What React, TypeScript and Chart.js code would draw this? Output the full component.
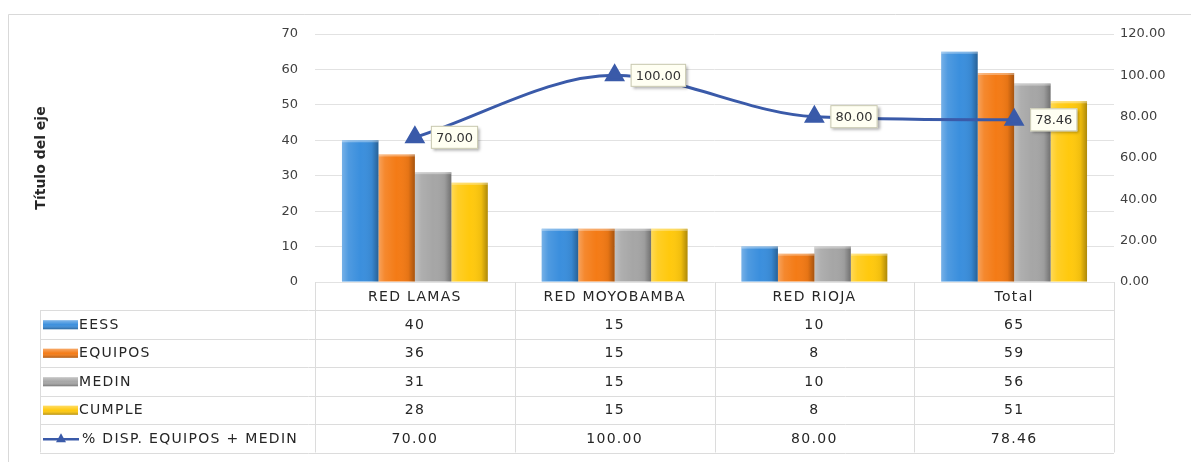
import { useEffect, useRef } from 'react';
import { Chart, registerables } from 'chart.js';
Chart.register(...registerables);

const categories = ['RED LAMAS', 'RED MOYOBAMBA', 'RED RIOJA', 'Total'];
const eess = [40, 15, 10, 65];
const equipos = [36, 15, 8, 59];
const medin = [31, 15, 10, 56];
const cumple = [28, 15, 8, 51];
const disp = [70.0, 100.0, 80.0, 78.46];
const seriesNames = ['EESS', 'EQUIPOS', 'MEDIN', 'CUMPLE'];
const lineName = '% DISP. EQUIPOS + MEDIN';
const axisTitle = 'Título del eje';

const FONT = '"DejaVu Sans", sans-serif';
const barColors = ['#3b8fdd', '#f47b16', '#a6a6a6', '#ffc90e'];
const lineColor = '#3a5aa9';

function shadeRect(ctx: CanvasRenderingContext2D, l: number, t: number, w: number, h: number) {
  const g = ctx.createLinearGradient(l, 0, l + w, 0);
  g.addColorStop(0, 'rgba(255,255,255,0.30)');
  g.addColorStop(0.18, 'rgba(255,255,255,0.10)');
  g.addColorStop(0.5, 'rgba(255,255,255,0)');
  g.addColorStop(0.82, 'rgba(0,0,0,0.06)');
  g.addColorStop(1, 'rgba(0,0,0,0.32)');
  ctx.fillStyle = g;
  ctx.fillRect(l, t, w, h);
  ctx.fillStyle = 'rgba(255,255,255,0.35)';
  ctx.fillRect(l, t, w, 2);
}

export default function App() {
  const ref = useRef<HTMLCanvasElement>(null);
  useEffect(() => {
    document.body.style.margin = '0';
    const canvas = ref.current!;

    const shadePlugin = {
      id: 'shade',
      afterDatasetDraw(chart: any, args: any) {
        const meta = args.meta;
        if (meta.type !== 'bar') return;
        const ctx = chart.ctx;
        ctx.save();
        meta.data.forEach((el: any) => {
          const { x, y, base, width } = el.getProps(['x', 'y', 'base', 'width'], true);
          shadeRect(ctx, x - width / 2, y, width, base - y);
        });
        ctx.restore();
      },
    };

    const labelPlugin = {
      id: 'lineLabels',
      afterDatasetDraw(chart: any, args: any) {
        const meta = args.meta;
        if (meta.type !== 'line') return;
        const ctx = chart.ctx;
        ctx.save();
        ctx.font = `13px ${FONT}`;
        meta.data.forEach((el: any, i: number) => {
          const { x, y } = el.getProps(['x', 'y'], true);
          const txt = disp[i].toFixed(2);
          const tw = ctx.measureText(txt).width;
          const bw = tw + 10;
          const bh = 23;
          const bx = x + 16;
          const by = y - bh / 2;
          ctx.shadowColor = 'rgba(0,0,0,0.35)';
          ctx.shadowOffsetX = 2;
          ctx.shadowOffsetY = 2;
          ctx.shadowBlur = 3;
          ctx.fillStyle = '#fffff2';
          ctx.fillRect(bx, by, bw, bh);
          ctx.shadowColor = 'transparent';
          ctx.strokeStyle = '#c8c8b0';
          ctx.lineWidth = 1;
          ctx.strokeRect(bx + 0.5, by + 0.5, bw - 1, bh - 1);
          ctx.fillStyle = '#333333';
          ctx.textAlign = 'center';
          ctx.textBaseline = 'middle';
          ctx.fillText(txt, bx + bw / 2, y + 1);
        });
        ctx.restore();
      },
    };

    const tablePlugin = {
      id: 'dataTable',
      beforeDraw(chart: any) {
        const ctx = chart.ctx;
        ctx.save();
        ctx.fillStyle = '#ffffff';
        ctx.fillRect(0, 0, chart.width, chart.height);
        ctx.strokeStyle = '#d9d9d9';
        ctx.lineWidth = 1;
        ctx.beginPath();
        ctx.moveTo(8.5, chart.height);
        ctx.lineTo(8.5, 14.5);
        ctx.lineTo(chart.width, 14.5);
        ctx.stroke();
        ctx.restore();
      },
      afterDraw(chart: any) {
        const ctx = chart.ctx;
        const area = chart.chartArea;
        const n = categories.length;
        const band = (area.right - area.left) / n;
        const legendLeft = 40;
        const rowTop = 310;
        const rowH = 28.5;
        const rows = seriesNames.length + 1;
        const bottom = rowTop + rows * rowH;
        ctx.save();
        ctx.strokeStyle = '#dcdcdc';
        ctx.lineWidth = 1;
        ctx.beginPath();
        for (let i = 0; i <= n; i++) {
          const x = Math.round(area.left + i * band) + 0.5;
          ctx.moveTo(x, area.bottom);
          ctx.lineTo(x, bottom);
        }
        ctx.moveTo(legendLeft + 0.5, rowTop);
        ctx.lineTo(legendLeft + 0.5, bottom);
        for (let r = 0; r <= rows; r++) {
          const y = Math.round(rowTop + r * rowH) + 0.5;
          ctx.moveTo(legendLeft, y);
          ctx.lineTo(area.right, y);
        }
        ctx.stroke();

        ctx.font = `14px ${FONT}`;
        (ctx as any).letterSpacing = '1.3px';
        ctx.fillStyle = '#262626';
        ctx.textBaseline = 'middle';
        ctx.textAlign = 'center';
        categories.forEach((c, i) => {
          ctx.fillText(c, area.left + (i + 0.5) * band, (area.bottom + rowTop) / 2 + 1);
        });
        const allSeries = [eess, equipos, medin, cumple];
        allSeries.forEach((s, r) => {
          const cy = rowTop + (r + 0.5) * rowH + 1;
          s.forEach((v, i) => {
            ctx.textAlign = 'center';
            ctx.fillStyle = '#262626';
            ctx.fillText(String(v), area.left + (i + 0.5) * band, cy);
          });
          ctx.fillStyle = barColors[r];
          ctx.fillRect(43, cy - 5, 35, 9);
          const g = ctx.createLinearGradient(0, cy - 5, 0, cy + 4);
          g.addColorStop(0, 'rgba(255,255,255,0.35)');
          g.addColorStop(0.5, 'rgba(255,255,255,0)');
          g.addColorStop(1, 'rgba(0,0,0,0.3)');
          ctx.fillStyle = g;
          ctx.fillRect(43, cy - 5, 35, 9);
          ctx.textAlign = 'left';
          ctx.fillStyle = '#262626';
          ctx.fillText(seriesNames[r], 79, cy);
        });
        const ly = rowTop + (rows - 0.5) * rowH + 1;
        disp.forEach((v, i) => {
          ctx.textAlign = 'center';
          ctx.fillStyle = '#262626';
          ctx.fillText(v.toFixed(2), area.left + (i + 0.5) * band, ly);
        });
        ctx.strokeStyle = lineColor;
        ctx.lineWidth = 2.5;
        ctx.beginPath();
        ctx.moveTo(43, ly);
        ctx.lineTo(79, ly);
        ctx.stroke();
        ctx.fillStyle = lineColor;
        ctx.beginPath();
        ctx.moveTo(61, ly - 6);
        ctx.lineTo(66, ly + 3);
        ctx.lineTo(56, ly + 3);
        ctx.closePath();
        ctx.fill();
        ctx.textAlign = 'left';
        ctx.fillStyle = '#262626';
        ctx.fillText(lineName, 82, ly);
        ctx.restore();
      },
    };

    const barData = [eess, equipos, medin, cumple];
    const chart = new Chart(canvas, {
      type: 'bar',
      data: {
        labels: categories,
        datasets: [
          {
            type: 'line',
            label: lineName,
            data: disp,
            yAxisID: 'y1',
            borderColor: lineColor,
            backgroundColor: lineColor,
            borderWidth: 3,
            cubicInterpolationMode: 'monotone',
            pointStyle: 'triangle',
            pointRadius: 9,
            pointBackgroundColor: lineColor,
            pointBorderColor: lineColor,
            order: 0,
          } as any,
          ...barData.map((d, i) => ({
            type: 'bar',
            label: seriesNames[i],
            data: d,
            yAxisID: 'y',
            backgroundColor: barColors[i],
            borderWidth: 0,
            categoryPercentage: 0.73,
            barPercentage: 1,
            order: 1,
          })),
        ],
      },
      options: {
        responsive: false,
        animation: false,
        layout: { padding: { left: 30, right: 0, top: 34, bottom: 180 } },
        plugins: { legend: { display: false }, tooltip: { enabled: false } },
        scales: {
          x: { display: false },
          y: {
            position: 'left',
            min: 0,
            max: 70,
            ticks: { stepSize: 10, padding: 17, color: '#404040', font: { family: FONT, size: 13 } },
            grid: { color: '#e2e2e2', drawTicks: false },
            border: { display: false },
            title: {
              display: true,
              text: axisTitle,
              color: '#262626',
              font: { family: FONT, size: 14, weight: 'bold' },
              padding: { top: 3, bottom: 4 },
            },
            afterFit: (s: any) => {
              s.width = 285;
            },
          },
          y1: {
            position: 'right',
            min: 0,
            max: 120,
            ticks: {
              stepSize: 20,
              padding: 6,
              color: '#404040',
              font: { family: FONT, size: 13 },
              callback: (v: any) => Number(v).toFixed(2),
            },
            grid: { display: false, drawTicks: false },
            border: { display: false },
            afterFit: (s: any) => {
              s.width = 77;
            },
          },
        },
      } as any,
      plugins: [tablePlugin, shadePlugin, labelPlugin],
    });
    return () => chart.destroy();
  }, []);
  return (
    <div style={{ width: 1191, height: 462 }}>
      <canvas ref={ref} width={1191} height={462} style={{ display: 'block' }} />
    </div>
  );
}
